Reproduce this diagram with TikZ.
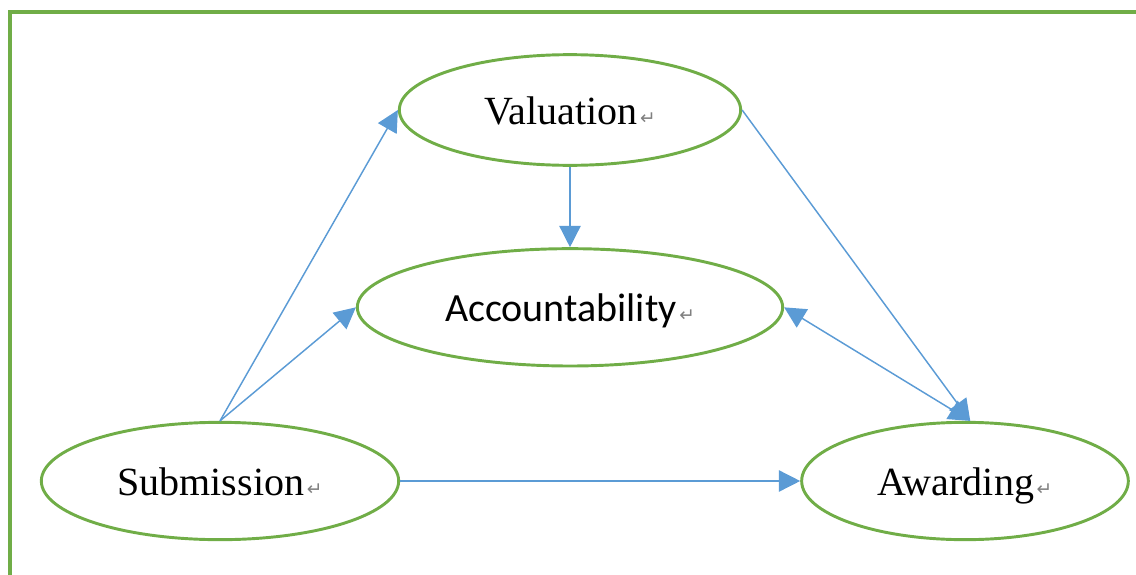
\documentclass[tikz,border=0pt]{standalone}
\usepackage{fontspec}
\setmainfont{Liberation Serif}
\newfontfamily\accfont{Carlito}
\newfontfamily\markfont{DejaVu Sans}
\usetikzlibrary{shapes.geometric, arrows.meta}
\definecolor{boxgreen}{RGB}{112,173,71}
\definecolor{linkblue}{RGB}{91,155,213}
\newcommand{\retmark}{\hspace{2pt}{\markfont\fontsize{14}{14}\selectfont\color{gray}↵}}
\tikzstyle{stage} = [ellipse, inner sep=0pt, text centered, draw=boxgreen,
    line width=2.2pt, text height=21pt, text depth=0pt, font=\fontsize{30}{36}\selectfont]
\tikzstyle{arrow} = [linkblue, line width=1.1pt, ->,
    >={Triangle[length=16pt, width=16pt]}]

\begin{document}
\begin{tikzpicture}[x=0.75pt, y=-0.75pt, node distance=148pt]
                \useasboundingbox (0,0) rectangle (1136,575);
                \draw [boxgreen, line width=2.5pt] (10,575) -- (10,12) -- (1136,12);

                \node (valuation) [stage, minimum width=256pt, minimum height=83pt] at (570,110) {Valuation\retmark};
                \node (account) [stage, below of=valuation, minimum width=319pt, minimum height=88pt,
                    font=\accfont\fontsize{30}{36}\selectfont] {Accountability\retmark};
                \node (submission) [stage, minimum width=268pt, minimum height=88pt] at (220,481) {Submission\retmark};
                \node (awarding) [stage, minimum width=245pt, minimum height=88pt] at (965,481) {Awarding\retmark};

                \draw [arrow] (submission.north) -- (valuation.west);
                \draw [arrow] (submission.north) -- (account.west);
                \draw [arrow] (valuation) -- (account);
                \draw [arrow] (valuation.east) -- (awarding.85);
                \draw [arrow, <->] (account.east) -- (awarding.85);
                \draw [arrow] (submission) -- (awarding);
            \end{tikzpicture}
\end{document}
